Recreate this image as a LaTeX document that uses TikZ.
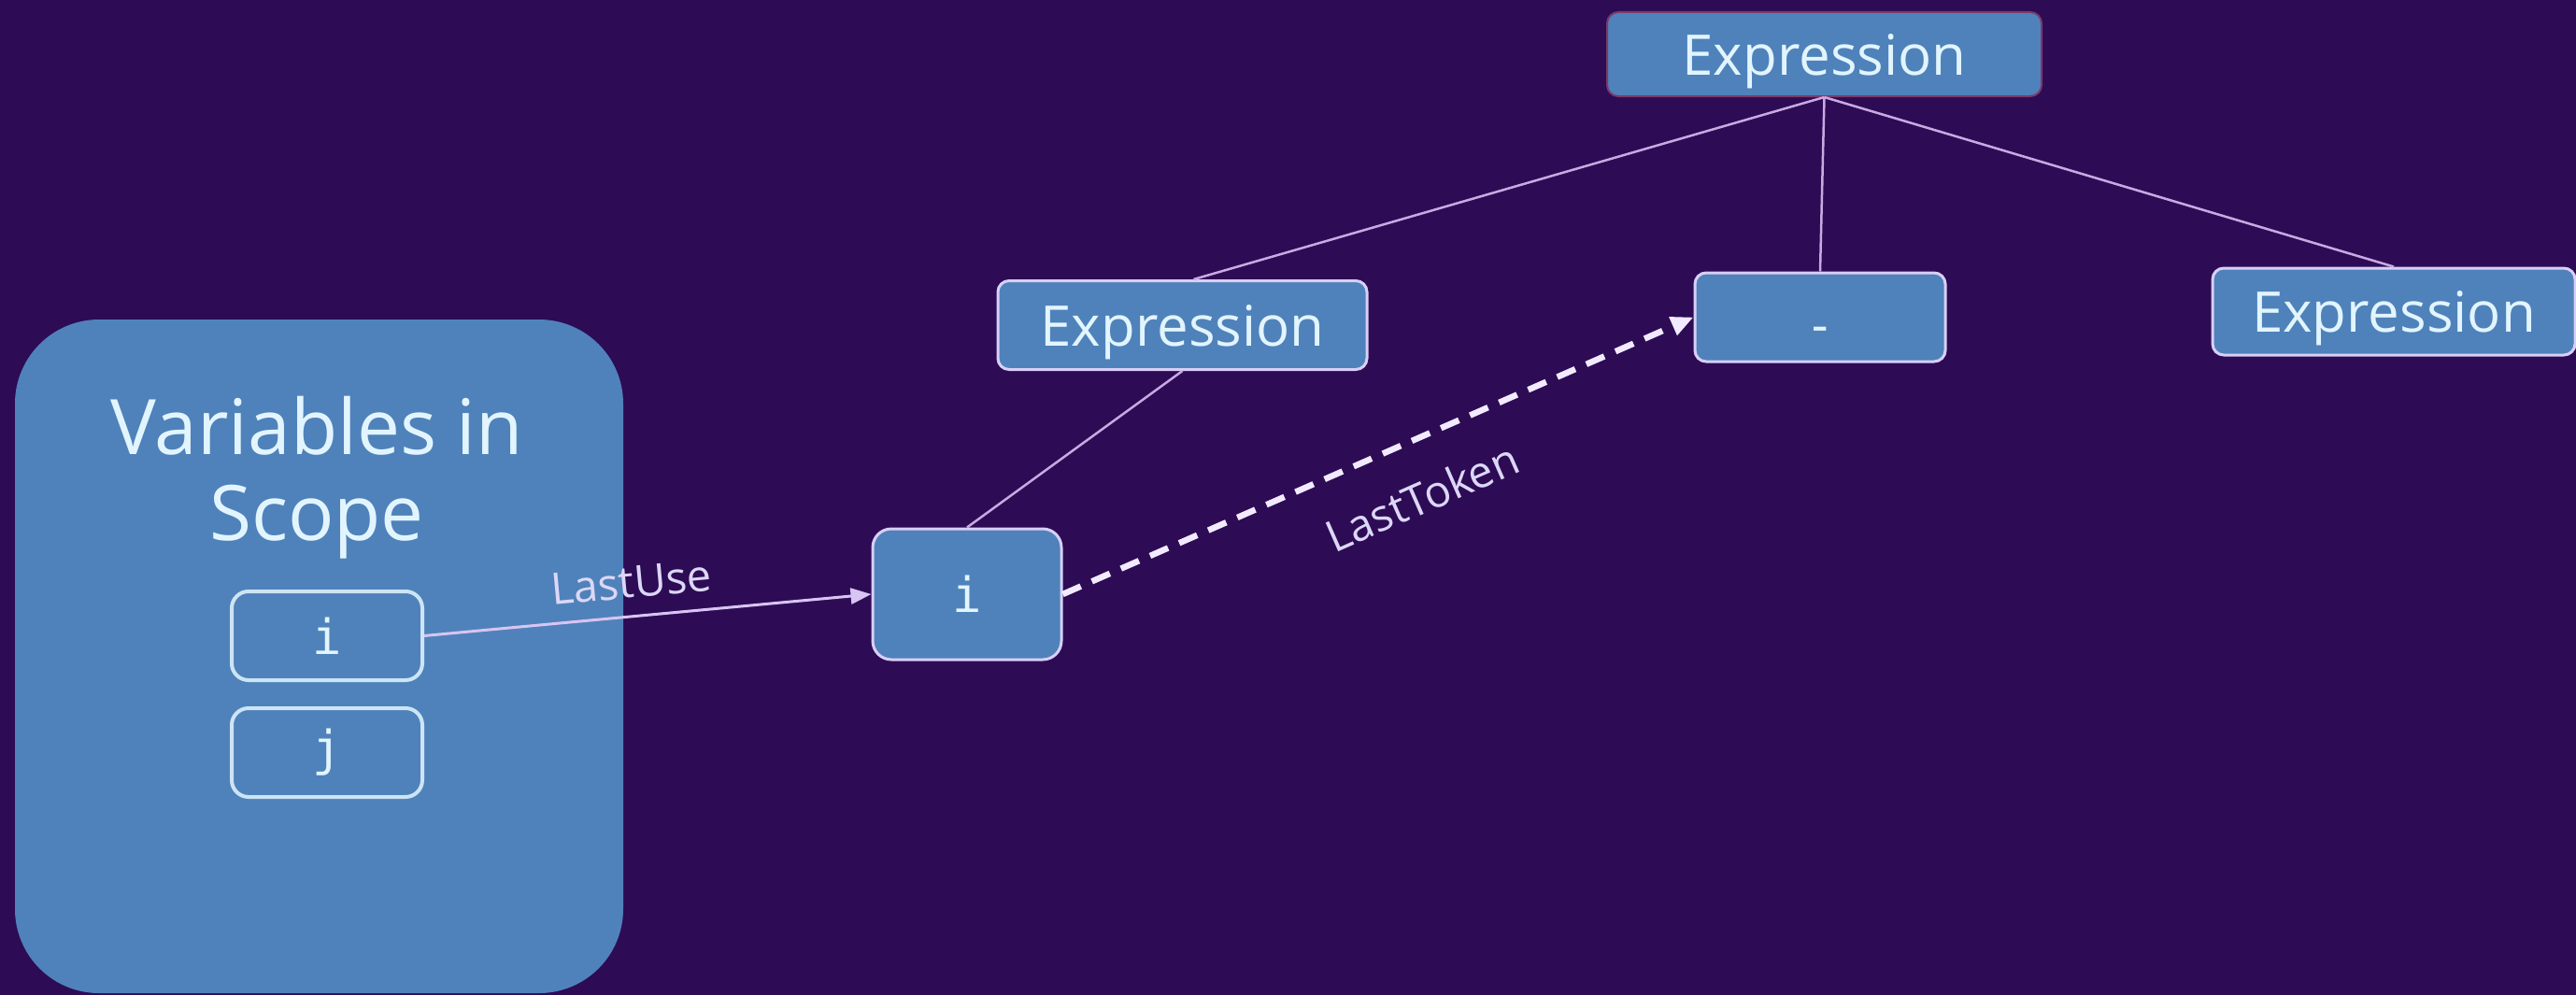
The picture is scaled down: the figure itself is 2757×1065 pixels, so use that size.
\documentclass[tikz,border=0pt]{standalone}
\usepackage{fontspec}
\setmainfont{Open Sans}
\setmonofont{DejaVu Sans Mono}
\usetikzlibrary{arrows.meta}

\definecolor{bgpurple}{HTML}{2D0B55}
\definecolor{boxblue}{HTML}{4F82BA}
\definecolor{boxline}{HTML}{D9CFF7}
\definecolor{txtpale}{HTML}{E2F5FF}
\definecolor{treeline}{HTML}{C9A9E2}
\definecolor{useline}{HTML}{D8C4F2}
\definecolor{tokline}{HTML}{F2EAFF}
\definecolor{rootline}{HTML}{7A3A6A}

\tikzset{
  astnode/.style={draw=boxline, line width=3pt, fill=boxblue, rounded corners=12pt,
    inner sep=0pt, text=txtpale, font=\fontsize{60}{72}\selectfont, text depth=0pt},
  tokbox/.style={draw=boxline, line width=3pt, fill=boxblue, rounded corners=20pt,
    inner sep=0pt, text=txtpale, font=\ttfamily\fontsize{52}{60}\selectfont},
  varbox/.style={draw=txtpale!85!boxblue, line width=4pt, fill=boxblue, rounded corners=18pt,
    inner sep=0pt, text=txtpale, font=\ttfamily\fontsize{52}{60}\selectfont,
    minimum width=204pt, minimum height=95pt},
  treeedge/.style={draw=treeline, line width=2.5pt},
  useedge/.style={draw=useline, line width=3pt, -{Triangle[length=22pt, width=17pt]}},
  tokedge/.style={draw=tokline, line width=6.5pt, dash pattern=on 21pt off 13pt,
    -{Triangle[length=24pt, width=20pt]}},
  edgelabel/.style={text=useline!60!txtpale, font=\fontsize{47}{56}\selectfont}
}

\begin{document}
\begin{tikzpicture}[x=1pt, y=-1pt]
  % canvas
  \fill[bgpurple] (0,0) rectangle (2757,1065);
  \useasboundingbox (0,0) rectangle (2757,1065);

  % scope panel with its variables
  \node[fill=boxblue, rounded corners=90pt, minimum width=651pt, minimum height=721pt,
        inner sep=0pt] (panel) at (341.5,702.5) {};
  \node[text=txtpale, align=center, inner sep=0pt, font=\fontsize{82}{92}\selectfont]
        (paneltitle) at (339,511) {Variables in\\Scope};
  \node[varbox] (vi) at (350,680.5) {i};
  \node[varbox] (vj) at (350,805.5) {j};

  % syntax tree
  \node[astnode, draw=rootline, line width=2pt, minimum width=465pt, minimum height=90pt]
        (root) at (1952.5,58) {Expression};
  \node[astnode, minimum width=395pt, minimum height=95pt] (lhs) at (1265.5,348) {Expression};
  \node[astnode, font=\ttfamily\fontsize{52}{60}\selectfont, text height=54pt,
        minimum width=268pt, minimum height=95pt] (minus) at (1948,339.5) {-};
  \node[astnode, minimum width=388pt, minimum height=93pt] (rhs) at (2562,333.5) {Expression};
  \node[tokbox, minimum width=202pt, minimum height=140pt] (tok) at (1035,636) {i};

  % tree edges
  \draw[treeedge] (root.south) -- ([xshift=12pt]lhs.north);
  \draw[treeedge] (root.south) -- (minus.north);
  \draw[treeedge] (root.south) -- (rhs.north);
  \draw[treeedge] (lhs.south) -- (tok.north);

  % data-flow edges
  \draw[useedge] (vi.east) -- node[pos=0.47, sloped, anchor=south, inner ysep=18pt, edgelabel]
        {LastUse} (tok.west);
  \draw[tokedge] (tok.east) -- node[pos=0.534, sloped, anchor=north, inner ysep=38pt, edgelabel]
        {LastToken} (minus.west);
\end{tikzpicture}
\end{document}
